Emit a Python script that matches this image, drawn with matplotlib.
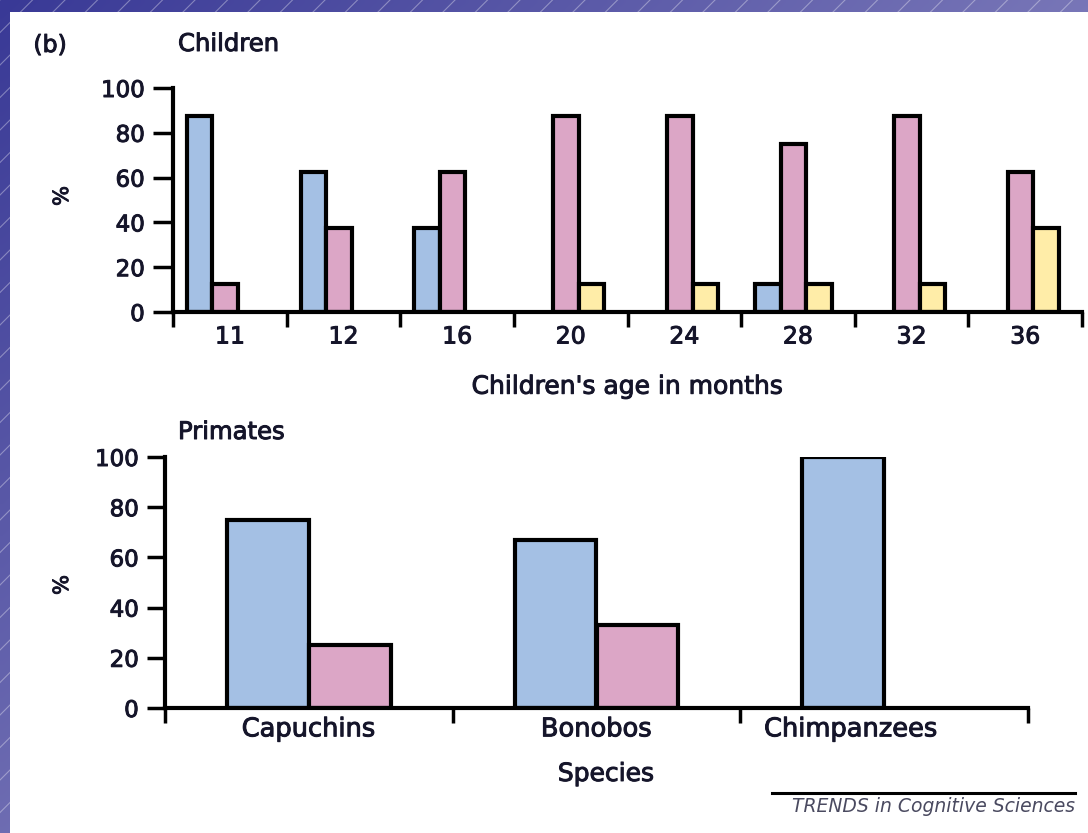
import numpy as np
import matplotlib
matplotlib.use("Agg")
import matplotlib.pyplot as plt
import matplotlib.patheffects as pe
import matplotlib.transforms as mtransforms
from matplotlib.colors import to_rgb

plt.rcParams['font.family'] = ['DejaVu Sans']

# Children: share of responses per age group
ages = ['11', '12', '16', '20', '24', '28', '32', '36']
child_blue = [87.5, 62.5, 37.5, 0, 0, 12.5, 0, 0]
child_pink = [12.5, 37.5, 62.5, 87.5, 87.5, 75, 87.5, 62.5]
child_yellow = [0, 0, 0, 12.5, 12.5, 12.5, 12.5, 37.5]

# Primates: share of responses per species
species = ['Capuchins', 'Bonobos', 'Chimpanzees']
ape_blue = [75, 67, 100]
ape_pink = [25, 33, 0]

y_ticks = [0, 20, 40, 60, 80, 100]

BLUE = '#a4c0e4'
PINK = '#dca6c6'
YELLOW = '#ffeda8'
INK = '#15152a'

# slightly heavier glyphs for all labels
HEAVY = [pe.withStroke(linewidth=0.7, foreground=INK)]

W, H = 1088, 833
fig = plt.figure(figsize=(W / 100, H / 100), dpi=100)

# Slide background: diagonal purple gradient with faint hatch lines, white panel
bg = fig.add_axes([0, 0, 1, 1], zorder=-10)
bg.set_xlim(0, W)
bg.set_ylim(H, 0)
bg.axis('off')
xx, yy = np.meshgrid(np.linspace(0, 1, 200), np.linspace(0, 1, 160))
t = np.clip(0.95 * xx + 0.8 * yy, 0, 1)
c0 = np.array(to_rgb('#393996'))
c1 = np.array(to_rgb('#7b79b9'))
grad = c0[None, None, :] * (1 - t[..., None]) + c1[None, None, :] * t[..., None]
bg.imshow(grad, extent=[0, W, H, 0], aspect='auto', interpolation='bilinear')
for k in np.arange(-H, W + H, 32.5):
    bg.plot([k, k + H], [H, 0], color='white', lw=0.8, alpha=0.35)
bg.add_patch(plt.Rectangle((10, 12), W - 10, H - 12, facecolor='white', edgecolor='none'))


def style_axes(ax, xlim, ylen_px):
    ax.set_facecolor('none')
    for s in ('top', 'right'):
        ax.spines[s].set_visible(False)
    for s in ('left', 'bottom'):
        ax.spines[s].set_linewidth(3.0)
        ax.spines[s].set_color('black')
    ax.set_xlim(*xlim)
    ax.set_ylim(0, 100)
    ax.set_yticks(y_ticks)
    ax.tick_params(axis='y', length=ylen_px * 0.72, width=2.5, pad=6,
                   labelsize=16.5, labelcolor=INK, color='black')
    ax.tick_params(axis='x', which='major', length=0, labelcolor=INK)
    ax.tick_params(axis='x', which='minor', length=11, width=2.5, color='black')


def heavy_ticks(ax):
    for lab in ax.get_xticklabels() + ax.get_yticklabels():
        lab.set_path_effects(HEAVY)
    ax.xaxis.label.set_path_effects(HEAVY)


# Children panel
ax1 = fig.add_axes([173 / W, 1 - 312 / H, 909 / W, 224 / H])
style_axes(ax1, (0, 8), 20)
x1 = np.arange(len(ages)) + 0.5
bw1 = 0.225
shift1 = -0.04
for vals, col, off in ((child_blue, BLUE, -bw1), (child_pink, PINK, 0.0),
                       (child_yellow, YELLOW, bw1)):
    v = np.array(vals, dtype=float)
    m = v > 0
    ax1.bar(x1[m] + off + shift1, v[m], width=bw1, color=col,
            edgecolor='black', linewidth=3.0, zorder=2)
ax1.set_xticks(x1)
ax1.set_xticklabels(ages)
ax1.set_xticks(np.arange(0, 9), minor=True)
ax1.tick_params(axis='x', which='major', pad=9, labelsize=17)
ax1.set_xlabel("Children's age in months", fontsize=18, color=INK)
ax1.xaxis.set_label_coords(0.5, -0.28)
ax1.xaxis.label.set_va('top')
heavy_ticks(ax1)

# Primates panel
ax2 = fig.add_axes([165 / W, 1 - 708 / H, 863 / W, 251 / H])
style_axes(ax2, (0, 3), 18)
x2 = np.arange(len(species)) + 0.5
bw2 = 0.285
for vals, col, off in ((ape_blue, BLUE, -bw2 / 2), (ape_pink, PINK, bw2 / 2)):
    v = np.array(vals, dtype=float)
    m = v > 0
    ax2.bar(x2[m] + off, v[m], width=bw2, color=col,
            edgecolor='black', linewidth=3.0, zorder=2)
ax2.set_xticks(x2)
ax2.set_xticklabels(species)
ax2.set_xticks(np.arange(0, 4), minor=True)
ax2.tick_params(axis='x', which='major', pad=6, labelsize=18.5)
ax2.set_xlabel('Species', fontsize=18, color=INK)
ax2.xaxis.set_label_coords(0.511, -0.215)
ax2.xaxis.label.set_va('top')
heavy_ticks(ax2)
# the last species name sits a little left of its group
last = ax2.get_xticklabels()[-1]
last.set_transform(last.get_transform() +
                   mtransforms.ScaledTranslation(-0.33, 0, fig.dpi_scale_trans))

# Panel titles, axis symbols and source line
for x, y, s, fs, rot in ((50, 45, '(b)', 17, 0), (178, 44, 'Children', 17.5, 0),
                         (178, 432, 'Primates', 17.5, 0), (62, 196, '%', 15, 90),
                         (62, 585, '%', 15, 90)):
    fig.text(x / W, 1 - y / H, s, fontsize=fs, color=INK, rotation=rot,
             ha='center' if s in ('(b)', '%') else 'left', va='center',
             path_effects=HEAVY)

bg.plot([772, 1075], [793, 793], color='black', lw=2.2)
fig.text(1075 / W, 1 - 806 / H, 'TRENDS in Cognitive Sciences', fontsize=13.5,
         style='italic', color='#4a4a60', ha='right', va='center')

fig.savefig('out.png', dpi=100)
